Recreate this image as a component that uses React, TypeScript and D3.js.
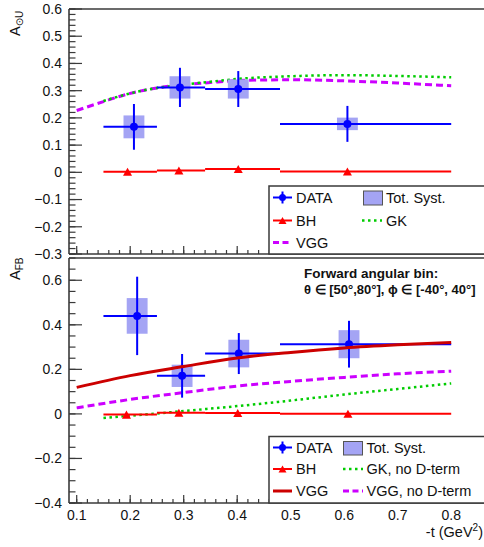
import React from "react";
import * as d3 from "d3";

// ---------- data ----------
const binLow = [0.15, 0.25, 0.34, 0.48];
const binHigh = [0.25, 0.34, 0.48, 0.8];

// Top panel: A_{⊙U}
const tBSA = [0.207, 0.293, 0.402, 0.606];
const valBSA = [0.167, 0.312, 0.306, 0.178];
const statBSA = [0.084, 0.072, 0.066, 0.066];
const systBSA = [0.042, 0.041, 0.035, 0.023];
const tBH_BSA = [0.195, 0.291, 0.402, 0.606];
const valBH_BSA = [0.002, 0.007, 0.012, 0.003];
const curveT_VGG_BSA = [0.1, 0.15, 0.2, 0.25, 0.3, 0.35, 0.4, 0.5, 0.6, 0.7, 0.8];
const curveV_VGG_BSA = [0.227, 0.26, 0.29, 0.31, 0.322, 0.33, 0.337, 0.34, 0.336, 0.328, 0.318];
const curveT_GK_BSA = [0.15, 0.2, 0.25, 0.3, 0.35, 0.4, 0.5, 0.6, 0.7, 0.8];
const curveV_GK_BSA = [0.262, 0.29, 0.31, 0.322, 0.333, 0.343, 0.353, 0.357, 0.354, 0.349];

// Bottom panel: A_FB
const tFB = [0.213, 0.297, 0.403, 0.609];
const valFB = [0.44, 0.171, 0.271, 0.313];
const statFB = [0.176, 0.098, 0.092, 0.105];
const systFB = [0.08, 0.05, 0.062, 0.063];
const tBH_FB = [0.193, 0.291, 0.401, 0.607];
const valBH_FB = [-0.003, 0.005, 0.004, 0.001];
const curveT_VGG_FB = [0.1, 0.2, 0.3, 0.4, 0.5, 0.6, 0.7, 0.8];
const curveV_VGG_FB = [0.119, 0.172, 0.213, 0.251, 0.276, 0.296, 0.31, 0.321];
const curveT_VGGnoD_FB = [0.1, 0.2, 0.3, 0.4, 0.5, 0.6, 0.7, 0.8];
const curveV_VGGnoD_FB = [0.027, 0.065, 0.096, 0.125, 0.146, 0.164, 0.18, 0.192];
const curveT_GKnoD_FB = [0.15, 0.2, 0.25, 0.3, 0.4, 0.5, 0.6, 0.7, 0.8];
const curveV_GKnoD_FB = [-0.018, -0.008, 0.002, 0.013, 0.035, 0.06, 0.087, 0.112, 0.137];

const xTicks = [0.1, 0.2, 0.3, 0.4, 0.5, 0.6, 0.7, 0.8];
const topYTicks = [-0.3, -0.2, -0.1, 0, 0.1, 0.2, 0.3, 0.4, 0.5, 0.6];
const botYTicks = [-0.4, -0.2, 0, 0.2, 0.4, 0.6];

// ---------- styles ----------
const BLUE = "#0000ff";
const SYST = "#a4a4f4";
const RED = "#ff0000";
const DARKRED = "#cc0000";
const MAGENTA = "#cc00ff";
const GREEN = "#00cc00";
const FRAME = "#3a3a3a";
const FONT = "Liberation Sans, Arial, Helvetica, sans-serif";

const W = 484;
const H = 547;
const X0 = 69;
const X1 = 490;

const x = d3.scaleLinear().domain([0.1, 0.8]).range([76.7, 451.2]);
const yTop = d3.scaleLinear().domain([-0.3, 0.6]).range([254, 9]);
const yBot = d3.scaleLinear().domain([-0.4, 0.7]).range([503, 258]);

const fmt = (d: number) => {
  if (Math.abs(d) < 1e-9) return "0";
  const s = Math.abs(d).toFixed(1);
  return d < 0 ? "\u2212" + s : s;
};

function range(a: number, b: number, step: number) {
  const out: number[] = [];
  const n = Math.round((b - a) / step);
  for (let i = 0; i <= n; i++) out.push(+(a + i * step).toFixed(6));
  return out;
}

function Curve({ ts, vs, y, stroke, width, dash }: any) {
  const gen = d3
    .line<number>()
    .x((_, i) => x(ts[i]))
    .y((v) => y(v))
    .curve(d3.curveMonotoneX);
  return <path d={gen(vs) || ""} fill="none" stroke={stroke} strokeWidth={width} strokeDasharray={dash} />;
}

function Triangle({ cx, cy, s, fill }: any) {
  const h = s * 0.9;
  return (
    <path
      d={`M${cx - s / 2},${cy + h / 2} L${cx + s / 2},${cy + h / 2} L${cx},${cy - h / 2} Z`}
      fill={fill}
    />
  );
}

function Frame({ y, minorY, majorY, top, bottom }: any) {
  const minorsX = range(0.1, 0.86, 0.02);
  return (
    <g>
      <line x1={X0} x2={X1} y1={top} y2={top} stroke={FRAME} strokeWidth={1.6} />
      <line x1={X0} x2={X1} y1={bottom} y2={bottom} stroke={FRAME} strokeWidth={1.6} />
      <line x1={X0} x2={X0} y1={top} y2={bottom} stroke={FRAME} strokeWidth={1.6} />
      {minorY.map((v: number, i: number) => (
        <line key={"ym" + i} x1={X0} x2={X0 + 6.5} y1={y(v)} y2={y(v)} stroke={FRAME} strokeWidth={1.2} />
      ))}
      {majorY.map((v: number, i: number) => (
        <line key={"yM" + i} x1={X0} x2={X0 + 13} y1={y(v)} y2={y(v)} stroke={FRAME} strokeWidth={1.2} />
      ))}
      {minorsX.map((v: number, i: number) => (
        <line key={"xm" + i} x1={x(v)} x2={x(v)} y1={bottom} y2={bottom - 4} stroke={FRAME} strokeWidth={1.2} />
      ))}
      {xTicks.map((v: number, i: number) => (
        <line key={"xM" + i} x1={x(v)} x2={x(v)} y1={bottom} y2={bottom - 8} stroke={FRAME} strokeWidth={1.2} />
      ))}
      {majorY.map((v: number, i: number) => (
        <text
          key={"yl" + i}
          x={62}
          y={y(v)}
          dy="0.35em"
          textAnchor="end"
          fontSize={14}
          fontFamily={FONT}
          fill="#111"
        >
          {fmt(v)}
        </text>
      ))}
    </g>
  );
}

function DataSet({ ts, vs, stat, syst, y }: any) {
  const hw = 0.0195;
  return (
    <g>
      {ts.map((t: number, i: number) => (
        <rect
          key={"s" + i}
          x={x(t - hw)}
          width={x(t + hw) - x(t - hw)}
          y={y(vs[i] + syst[i])}
          height={y(vs[i] - syst[i]) - y(vs[i] + syst[i])}
          fill={SYST}
        />
      ))}
      {ts.map((t: number, i: number) => (
        <g key={"d" + i}>
          <line x1={x(binLow[i])} x2={x(binHigh[i])} y1={y(vs[i])} y2={y(vs[i])} stroke={BLUE} strokeWidth={2} />
          <line x1={x(t)} x2={x(t)} y1={y(vs[i] + stat[i])} y2={y(vs[i] - stat[i])} stroke={BLUE} strokeWidth={2} />
          <circle cx={x(t)} cy={y(vs[i])} r={4} fill={BLUE} />
        </g>
      ))}
    </g>
  );
}

function BH({ ts, vs, y }: any) {
  return (
    <g>
      {ts.map((t: number, i: number) => (
        <g key={i}>
          <line x1={x(binLow[i])} x2={x(binHigh[i])} y1={y(vs[i])} y2={y(vs[i])} stroke={RED} strokeWidth={2} />
          <Triangle cx={x(t)} cy={y(vs[i])} s={9} fill={RED} />
        </g>
      ))}
    </g>
  );
}

function LegendText({ x: lx, y: ly, children }: any) {
  return (
    <text x={lx} y={ly} dy="0.36em" fontSize={14.5} fontFamily={FONT} fill="#111">
      {children}
    </text>
  );
}

function DataMarker({ cx, cy }: any) {
  return (
    <g>
      <line x1={cx - 9.5} x2={cx + 9.5} y1={cy} y2={cy} stroke={BLUE} strokeWidth={2} />
      <line x1={cx} x2={cx} y1={cy - 6} y2={cy + 6} stroke={BLUE} strokeWidth={2} />
      <circle cx={cx} cy={cy} r={3.5} fill={BLUE} />
    </g>
  );
}

export default function App() {
  const topMinor = range(-0.3, 0.6, 0.02);
  const botMinor = range(-0.4, 0.7, 0.05);
  return (
    <svg
      width={W}
      height={H}
      viewBox={`0 0 ${W} ${H}`}
      style={{ position: "absolute", left: 0, top: 0, background: "#fff" }}
    >
      <rect x={0} y={0} width={W} height={H} fill="#fff" />

      {/* ---------- top panel ---------- */}
      <Curve ts={curveT_VGG_BSA} vs={curveV_VGG_BSA} y={yTop} stroke={MAGENTA} width={3} dash="7,4" />
      <Curve ts={curveT_GK_BSA} vs={curveV_GK_BSA} y={yTop} stroke={GREEN} width={2.5} dash="2.5,3.5" />
      <BH ts={tBH_BSA} vs={valBH_BSA} y={yTop} />
      <DataSet ts={tBSA} vs={valBSA} stat={statBSA} syst={systBSA} y={yTop} />
      <Frame y={yTop} minorY={topMinor} majorY={topYTicks} top={9} bottom={254} />

      {/* top legend */}
      <rect x={269} y={186} width={230} height={68} fill="#fff" stroke={FRAME} strokeWidth={1.5} />
      <DataMarker cx={282.5} cy={197.5} />
      <LegendText x={296} y={197.5}>DATA</LegendText>
      <rect x={363.5} y={191} width={19} height={14} fill={SYST} stroke="#555" strokeWidth={1} />
      <LegendText x={386} y={197.5}>Tot. Syst.</LegendText>
      <line x1={273} x2={292} y1={220.5} y2={220.5} stroke={RED} strokeWidth={2} />
      <Triangle cx={282.5} cy={220.5} s={8} fill={RED} />
      <LegendText x={296} y={220.5}>BH</LegendText>
      <line x1={362} x2={382} y1={220.5} y2={220.5} stroke={GREEN} strokeWidth={2.5} strokeDasharray="2.5,3.5" />
      <LegendText x={386} y={220.5}>GK</LegendText>
      <line x1={273} x2={292} y1={242.5} y2={242.5} stroke={MAGENTA} strokeWidth={3} strokeDasharray="6,3.5" />
      <LegendText x={296} y={242.5}>VGG</LegendText>

      {/* top y title */}
      <text transform="translate(20,36) rotate(-90)" fontSize={14.5} fontFamily={FONT} fill="#111">
        A
        <tspan fontSize={10} dy={3} fontFamily="DejaVu Sans, sans-serif">⊙</tspan>
        <tspan fontSize={10}>U</tspan>
      </text>

      {/* ---------- bottom panel ---------- */}
      <Curve ts={curveT_VGGnoD_FB} vs={curveV_VGGnoD_FB} y={yBot} stroke={MAGENTA} width={3} dash="7,4" />
      <Curve ts={curveT_GKnoD_FB} vs={curveV_GKnoD_FB} y={yBot} stroke={GREEN} width={2.5} dash="2.5,3.5" />
      <BH ts={tBH_FB} vs={valBH_FB} y={yBot} />
      <DataSet ts={tFB} vs={valFB} stat={statFB} syst={systFB} y={yBot} />
      <Curve ts={curveT_VGG_FB} vs={curveV_VGG_FB} y={yBot} stroke={DARKRED} width={3} />
      <Frame y={yBot} minorY={botMinor} majorY={botYTicks} top={258} bottom={503} />

      {/* x labels */}
      {xTicks.map((v, i) => (
        <text key={i} x={x(v)} y={520} textAnchor="middle" fontSize={14} fontFamily={FONT} fill="#111">
          {v.toFixed(1)}
        </text>
      ))}
      <text x={483} y={537} textAnchor="end" fontSize={14.5} fontFamily={FONT} fill="#111">
        -t (GeV
        <tspan fontSize={10} dy={-6}>2</tspan>
        <tspan dy={6}>)</tspan>
      </text>

      {/* bottom y title */}
      <text transform="translate(20,280) rotate(-90)" fontSize={14.5} fontFamily={FONT} fill="#111">
        A<tspan fontSize={10} dy={3}>FB</tspan>
      </text>

      {/* annotation */}
      <text x={304} y={278} fontSize={13.5} fontWeight="bold" fontFamily={FONT} fill="#111">
        Forward angular bin:
      </text>
      <text x={304} y={294} fontSize={13} fontWeight="bold" fontFamily={FONT} fill="#111">
        θ ∈ [50°,80°], ϕ ∈ [-40°, 40°]
      </text>

      {/* bottom legend */}
      <rect x={269} y={436.5} width={230} height={66.5} fill="#fff" stroke={FRAME} strokeWidth={1.5} />
      <DataMarker cx={282.5} cy={447.5} />
      <LegendText x={296} y={447.5}>DATA</LegendText>
      <rect x={343.5} y={441.5} width={19} height={13.5} fill={SYST} stroke="#555" strokeWidth={1} />
      <LegendText x={366.5} y={447.5}>Tot. Syst.</LegendText>
      <line x1={273} x2={292} y1={469} y2={469} stroke={RED} strokeWidth={2} />
      <Triangle cx={282.5} cy={469} s={8} fill={RED} />
      <LegendText x={296} y={469}>BH</LegendText>
      <line x1={343} x2={363} y1={469} y2={469} stroke={GREEN} strokeWidth={2.5} strokeDasharray="2.5,3.5" />
      <LegendText x={366.5} y={469}>GK, no D-term</LegendText>
      <line x1={273} x2={292} y1={491} y2={491} stroke={DARKRED} strokeWidth={3} />
      <LegendText x={296} y={491}>VGG</LegendText>
      <line x1={343} x2={363} y1={491} y2={491} stroke={MAGENTA} strokeWidth={3} strokeDasharray="6,3.5" />
      <LegendText x={366.5} y={491}>VGG, no D-term</LegendText>
    </svg>
  );
}
